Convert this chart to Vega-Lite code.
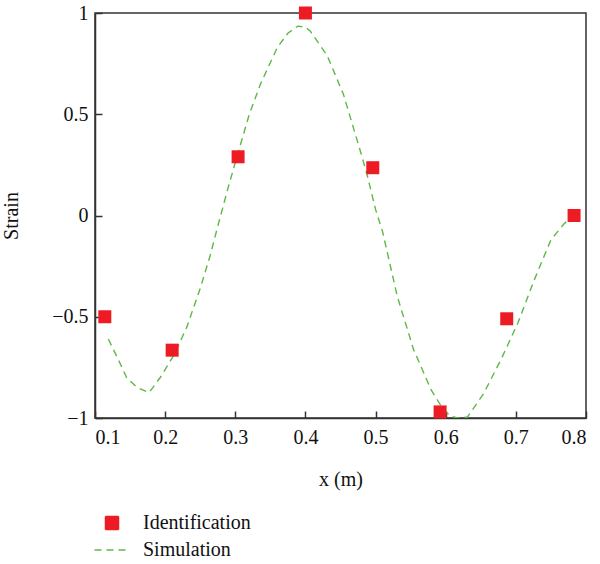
{
  "$schema": "https://vega.github.io/schema/vega-lite/v6.json",
  "autosize": {"type": "none"},
  "width": 491,
  "height": 405,
  "padding": {"left": 95, "top": 13, "right": 14, "bottom": 146},
  "config": {
    "font": "Liberation Serif",
    "view": {"stroke": "#333", "strokeWidth": 1.5},
    "axis": {
      "labelFont": "Liberation Serif",
      "titleFont": "Liberation Serif",
      "labelFontSize": 20,
      "titleFontSize": 20,
      "labelColor": "#111",
      "titleColor": "#111",
      "titleFontWeight": "normal",
      "grid": false,
      "domainColor": "#333",
      "domainWidth": 1.5,
      "tickColor": "#333",
      "tickWidth": 1.5,
      "tickSize": -7,
      "labelPadding": 14
    },
    "legend": {"labelFont": "Liberation Serif", "labelFontSize": 20, "labelColor": "#111", "padding": 0}
  },
  "datasets": {
    "ident": [
      {"x": 0.114, "strain": -0.50, "series": "Identification"},
      {"x": 0.210, "strain": -0.665, "series": "Identification"},
      {"x": 0.304, "strain": 0.29, "series": "Identification"},
      {"x": 0.400, "strain": 1.0, "series": "Identification"},
      {"x": 0.496, "strain": 0.236, "series": "Identification"},
      {"x": 0.592, "strain": -0.97, "series": "Identification"},
      {"x": 0.687, "strain": -0.51, "series": "Identification"},
      {"x": 0.783, "strain": 0.0, "series": "Identification"}
    ],
    "sim": [
      {"x": 0.119, "strain": -0.61, "series": "Simulation"},
      {"x": 0.133, "strain": -0.71, "series": "Simulation"},
      {"x": 0.145, "strain": -0.80, "series": "Simulation"},
      {"x": 0.160, "strain": -0.85, "series": "Simulation"},
      {"x": 0.177, "strain": -0.875, "series": "Simulation"},
      {"x": 0.193, "strain": -0.80, "series": "Simulation"},
      {"x": 0.214, "strain": -0.68, "series": "Simulation"},
      {"x": 0.231, "strain": -0.55, "series": "Simulation"},
      {"x": 0.250, "strain": -0.36, "series": "Simulation"},
      {"x": 0.264, "strain": -0.20, "series": "Simulation"},
      {"x": 0.276, "strain": -0.04, "series": "Simulation"},
      {"x": 0.290, "strain": 0.14, "series": "Simulation"},
      {"x": 0.304, "strain": 0.31, "series": "Simulation"},
      {"x": 0.320, "strain": 0.50, "series": "Simulation"},
      {"x": 0.336, "strain": 0.65, "series": "Simulation"},
      {"x": 0.360, "strain": 0.83, "series": "Simulation"},
      {"x": 0.375, "strain": 0.90, "series": "Simulation"},
      {"x": 0.389, "strain": 0.935, "series": "Simulation"},
      {"x": 0.400, "strain": 0.93, "series": "Simulation"},
      {"x": 0.407, "strain": 0.91, "series": "Simulation"},
      {"x": 0.431, "strain": 0.79, "series": "Simulation"},
      {"x": 0.454, "strain": 0.60, "series": "Simulation"},
      {"x": 0.479, "strain": 0.31, "series": "Simulation"},
      {"x": 0.488, "strain": 0.20, "series": "Simulation"},
      {"x": 0.500, "strain": 0.03, "series": "Simulation"},
      {"x": 0.510, "strain": -0.08, "series": "Simulation"},
      {"x": 0.531, "strain": -0.40, "series": "Simulation"},
      {"x": 0.554, "strain": -0.66, "series": "Simulation"},
      {"x": 0.579, "strain": -0.86, "series": "Simulation"},
      {"x": 0.597, "strain": -0.96, "series": "Simulation"},
      {"x": 0.607, "strain": -0.99, "series": "Simulation"},
      {"x": 0.617, "strain": -1.0, "series": "Simulation"},
      {"x": 0.631, "strain": -0.995, "series": "Simulation"},
      {"x": 0.654, "strain": -0.88, "series": "Simulation"},
      {"x": 0.679, "strain": -0.71, "series": "Simulation"},
      {"x": 0.703, "strain": -0.53, "series": "Simulation"},
      {"x": 0.726, "strain": -0.32, "series": "Simulation"},
      {"x": 0.750, "strain": -0.12, "series": "Simulation"},
      {"x": 0.769, "strain": -0.04, "series": "Simulation"},
      {"x": 0.779, "strain": -0.01, "series": "Simulation"}
    ]
  },
  "encoding": {
    "x": {
      "field": "x", "type": "quantitative",
      "scale": {"domain": [0.1, 0.8], "nice": false, "zero": false},
      "axis": {"values": [0.1, 0.2, 0.3, 0.4, 0.5, 0.6, 0.7, 0.8], "format": ".1f", "title": "x (m)", "titlePadding": 22, "labelPadding": 16}
    },
    "y": {
      "field": "strain", "type": "quantitative",
      "scale": {"domain": [-1, 1], "nice": false},
      "axis": {"values": [-1, -0.5, 0, 0.5, 1], "format": "~g", "title": "Strain", "titlePadding": 30}
    },
    "color": {
      "field": "series", "type": "nominal",
      "scale": {"domain": ["Identification", "Simulation"], "range": ["#ED1C24", "#5DB846"]},
      "legend": {
        "title": null,
        "orient": "none",
        "legendX": 7,
        "legendY": 500,
        "rowPadding": 7,
        "labelOffset": 21,
        "symbolStrokeWidth": 1.5,
        "encode": {
          "symbols": {
            "update": {
              "shape": {"signal": "datum.value === 'Simulation' ? 'stroke' : 'square'"},
              "size": {"signal": "datum.value === 'Simulation' ? 1225 : 169"},
              "strokeDash": {"signal": "datum.value === 'Simulation' ? [7, 5] : [1, 0]"},
              "fill": {"signal": "datum.value === 'Simulation' ? 'transparent' : '#ED1C24'"},
              "stroke": {"signal": "datum.value === 'Simulation' ? '#5DB846' : '#ED1C24'"}
            }
          }
        }
      }
    }
  },
  "layer": [
    {
      "data": {"name": "sim"},
      "mark": {"type": "line", "strokeDash": [7, 5], "strokeWidth": 1.4, "clip": true}
    },
    {
      "data": {"name": "ident"},
      "mark": {"type": "square", "size": 169, "opacity": 1, "filled": true, "clip": false}
    }
  ]
}
